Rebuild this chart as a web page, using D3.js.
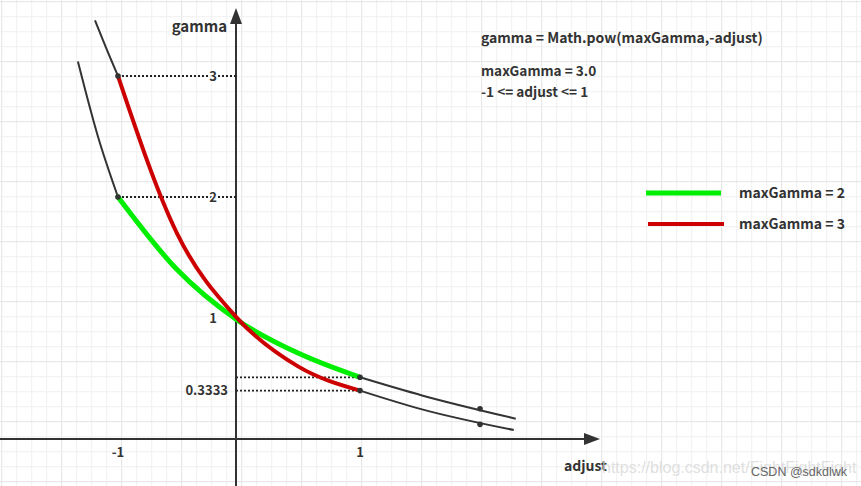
<!DOCTYPE html>
<html>
<head>
<meta charset="utf-8">
<script src="https://cdn.jsdelivr.net/npm/d3@7/dist/d3.min.js"></script>
<style>
  html, body { margin: 0; padding: 0; background: #fff; }
  svg { display: block; }
  .lbl { font-family: "Noto Sans CJK SC", "Noto Sans", sans-serif; font-weight: 700; fill: #333; }
</style>
</head>
<body>
<svg id="chart" width="861" height="486"></svg>
<script>
// ---- data ----
const adjustValues = [-1, -0.5, 0, 0.5, 1];
const gammaMax2 = [2.0, 1.40, 0.99, 0.71, 0.51];
const gammaMax3 = [3.0, 1.70, 1.01, 0.60, 0.40];

// thin black continuation curves
const extLeft2Adjust = [-1.34, -1.17, -1];
const extLeft2Gamma  = [3.12, 2.50, 2.0];
const extLeft3Adjust = [-1.195, -1.1, -1];
const extLeft3Gamma  = [3.46, 3.23, 3.0];
const extRight2Adjust = [1, 1.5, 2.256];
const extRight2Gamma  = [0.51, 0.36, 0.168];
const extRight3Adjust = [1, 1.5, 2.24];
const extRight3Gamma  = [0.40, 0.245, 0.074];

const dotAdjust = [-1, -1, 1, 1, 1.968, 1.968];
const dotGamma  = [3.0, 2.0, 0.51, 0.40, 0.25, 0.121];

const xTickValues = [-1, 1];
const xTickLabels = ["-1", "1"];
const yTickValues = [1, 2, 3, 0.40];
const yTickLabels = ["1", "2", "3", "0.3333"];

const legendLabels = ["maxGamma = 2", "maxGamma = 3"];
const seriesColors = ["#00ee00", "#cc0000"];
const formulaLines = ["gamma = Math.pow(maxGamma,-adjust)", "maxGamma = 3.0", "-1 <= adjust <= 1"];

// ---- drawing ----
const W = 861, H = 486;
const svg = d3.select("#chart");

const x = d3.scaleLinear().domain([-1, 0, 1]).range([118, 236, 360]);
const y = d3.scaleLinear().domain([0, 3]).range([439, 76]);

// grid paper
const grid = svg.append("g");
d3.range(1.7, W, 15).forEach((gx, i) => {
  grid.append("line").attr("x1", gx).attr("x2", gx).attr("y1", 0).attr("y2", H)
    .attr("stroke", i % 4 === 0 ? "#e3e3e3" : "#f0f0f0").attr("stroke-width", 1);
});
d3.range(1.7, H, 15).forEach((gy, i) => {
  grid.append("line").attr("y1", gy).attr("y2", gy).attr("x1", 0).attr("x2", W)
    .attr("stroke", i % 4 === 0 ? "#e3e3e3" : "#f0f0f0").attr("stroke-width", 1);
});

// axes
const axisColor = "#333";
svg.append("line").attr("x1", 0).attr("x2", 588).attr("y1", y(0)).attr("y2", y(0))
  .attr("stroke", axisColor).attr("stroke-width", 2);
svg.append("path").attr("d", `M600,${y(0)} L584,${y(0)-6} L584,${y(0)+6} Z`).attr("fill", axisColor);
svg.append("line").attr("x1", x(0)).attr("x2", x(0)).attr("y1", H).attr("y2", 20)
  .attr("stroke", axisColor).attr("stroke-width", 2);
svg.append("path").attr("d", `M${x(0)},8 L${x(0)-6},24 L${x(0)+6},24 Z`).attr("fill", axisColor);

// dotted guide lines
const dotted = [
  [x(-1), x(0), y(3)], [x(-1), x(0), y(2)],
  [x(0), x(1), y(0.51)], [x(0), x(1), y(0.40)]
];
dotted.forEach(d => {
  svg.append("line").attr("x1", d[0]).attr("x2", d[1]).attr("y1", d[2]).attr("y2", d[2])
    .attr("stroke", "#222").attr("stroke-width", 1.8).attr("stroke-dasharray", "2,2");
});

const line = d3.line().x(d => x(d[0])).y(d => y(d[1])).curve(d3.curveMonotoneX);
const zip = (a, b) => a.map((v, i) => [v, b[i]]);

// thin black curves: left extension, the curve itself, right extension
[
  zip(extLeft2Adjust, extLeft2Gamma), zip(adjustValues, gammaMax2), zip(extRight2Adjust, extRight2Gamma),
  zip(extLeft3Adjust, extLeft3Gamma), zip(adjustValues, gammaMax3), zip(extRight3Adjust, extRight3Gamma)
].forEach(pts => {
  svg.append("path").attr("d", line(pts)).attr("fill", "none").attr("stroke", "#333").attr("stroke-width", 2);
});

// colored curves
svg.append("path").attr("d", line(zip(adjustValues, gammaMax2))).attr("fill", "none")
  .attr("stroke", seriesColors[0]).attr("stroke-width", 5).attr("stroke-linecap", "round");
svg.append("path").attr("d", line(zip(adjustValues, gammaMax3))).attr("fill", "none")
  .attr("stroke", seriesColors[1]).attr("stroke-width", 4).attr("stroke-linecap", "round");

// dots
dotAdjust.forEach((a, i) => {
  svg.append("circle").attr("cx", x(a)).attr("cy", y(dotGamma[i])).attr("r", 2.8).attr("fill", "#333");
});

// tick labels
xTickValues.forEach((v, i) => {
  svg.append("text").attr("class", "lbl").attr("x", x(v)).attr("y", 457).attr("text-anchor", "middle")
    .attr("font-size", 13).text(xTickLabels[i]);
});
yTickValues.forEach((v, i) => {
  const t = svg.append("text").attr("class", "lbl").attr("y", y(v) + 4.5).attr("font-size", 13)
    .attr("text-anchor", i < 3 ? "middle" : "end").attr("x", i < 3 ? 213 : 228).text(yTickLabels[i]);
  if (i < 3) t.attr("stroke", "#fff").attr("stroke-width", 3).attr("paint-order", "stroke");
});

// axis titles
svg.append("text").attr("class", "lbl").attr("x", 227).attr("y", 32).attr("text-anchor", "end")
  .attr("font-size", 15).text("gamma");
svg.append("text").attr("class", "lbl").attr("x", 564).attr("y", 471).attr("font-size", 14).text("adjust");

// formula text
const fy = [43, 76, 96.5];
const fs = [14, 13.6, 13.6];
formulaLines.forEach((t, i) => {
  svg.append("text").attr("class", "lbl").attr("x", 481).attr("y", fy[i]).attr("font-size", fs[i]).text(t);
});

// legend
const legY = [193, 224];
legendLabels.forEach((t, i) => {
  svg.append("line").attr("x1", 646 + i * 2).attr("x2", 721 + i * 3).attr("y1", legY[i]).attr("y2", legY[i])
    .attr("stroke", seriesColors[i]).attr("stroke-width", i === 0 ? 5 : 4);
  svg.append("text").attr("class", "lbl").attr("x", 739).attr("y", legY[i] + 5).attr("font-size", 14).text(t);
});

// watermarks
svg.append("text").attr("x", 602).attr("y", 473).attr("font-family", "Liberation Sans, Arial, sans-serif")
  .attr("font-size", 16).attr("fill", "#d8d8d8").attr("fill-opacity", 0.8).text("https://blog.csdn.net/FightFightFight");
svg.append("text").attr("x", 751).attr("y", 476).attr("font-family", "Liberation Sans, Arial, sans-serif")
  .attr("font-size", 12.5).attr("fill", "#666").text("CSDN @sdkdlwk");
</script>
</body>
</html>
